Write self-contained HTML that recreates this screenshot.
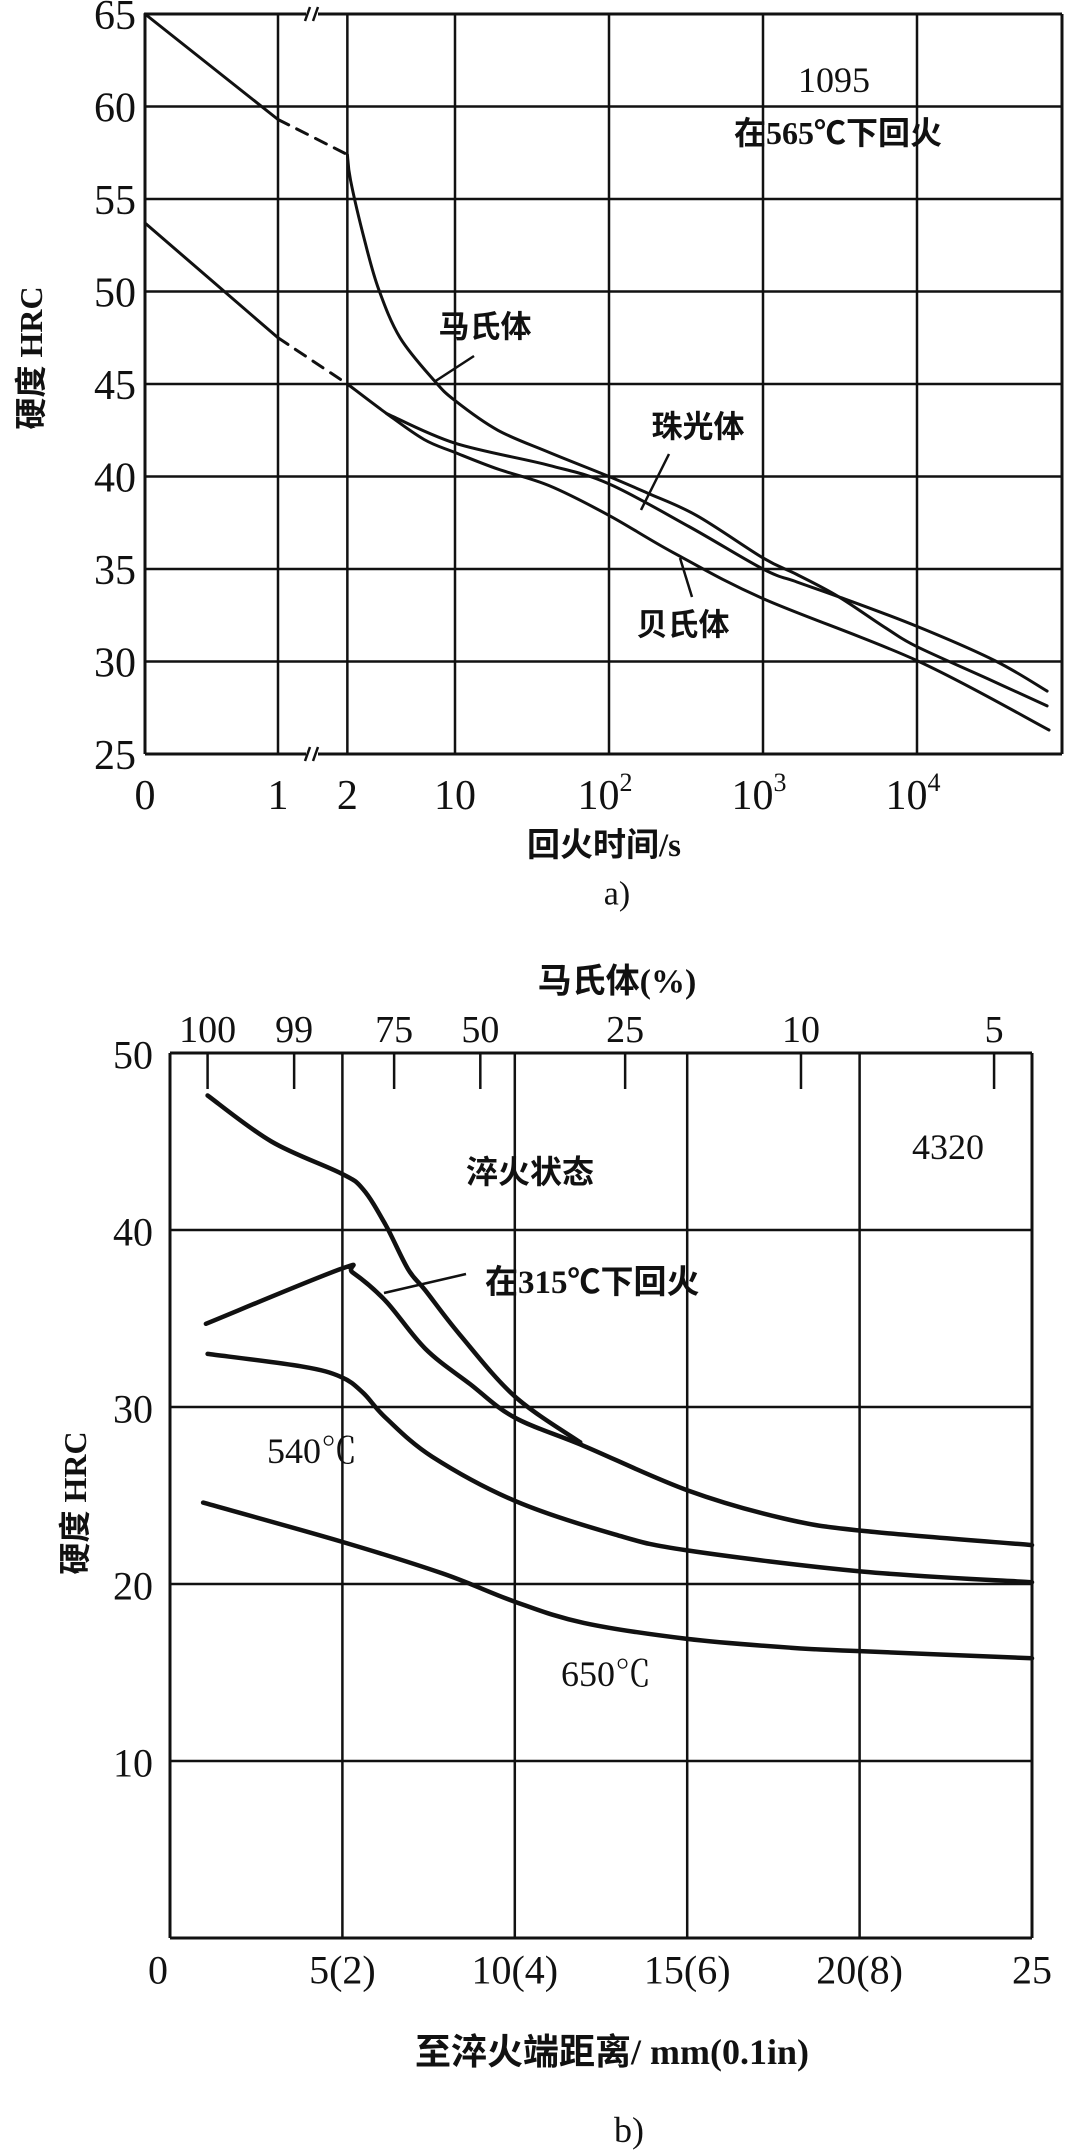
<!DOCTYPE html>
<html><head><meta charset="utf-8">
<style>
html,body{margin:0;padding:0;background:#fff;}
svg{display:block;}
text{font-family:"Liberation Serif","Noto Serif CJK SC","Noto Sans CJK SC",serif;fill:#111;}
.cj{font-family:"Liberation Serif","Noto Sans CJK SC",sans-serif;font-weight:bold;}
</style></head>
<body>
<svg id="fig" width="1080" height="2155" viewBox="0 0 1080 2155" xmlns="http://www.w3.org/2000/svg"></svg>
<script>
// ---------- Chart a data ----------
const aYTicks=[65,60,55,50,45,40,35,30,25];
const aXTickVals=[0,1,2,10,100,1000,10000];
const aXTickLabels=["0","1","2","10","10|2","10|3","10|4"];
const martSolidT=[0,1], martSolidH=[65,59.3];
const martDashT=[1,2], martDashH=[59.3,57.4];
const martT=[2,2.1,2.6,3.2,4.4,7.3,10,19,41,100,178,370,1000,1660,3100,6300,10000,30000,70000];
const martH=[57.4,56.0,52.7,50.1,47.5,45.2,44.1,42.5,41.3,40.0,39.1,37.9,35.6,34.7,33.5,31.8,30.8,29.0,27.6];
const pearlT=[3.6,10,41,100,330,1000,1660,3100,10000,32000,70000];
const pearlH=[43.4,41.8,40.6,39.6,37.3,35.0,34.3,33.5,31.9,30.05,28.4];
const bainSolidT=[0,1], bainSolidH=[53.7,47.5];
const bainDashT=[1,2], bainDashH=[47.5,45.0];
const bainT=[2,3.6,6.3,10,19,41,100,260,1000,10000,72000];
const bainH=[45.0,43.4,42.0,41.3,40.4,39.5,37.9,35.9,33.4,30.05,26.3];
// ---------- Chart b data ----------
const bYTicks=[50,40,30,20,10];
const bXTickVals=[0,5,10,15,20,25];
const bXTickLabels=["0","5(2)","10(4)","15(6)","20(8)","25"];
const bTopLabels=["100","99","75","50","25","10","5"];
const bTopD=[1.09,3.6,6.5,9.0,13.2,18.3,23.9];
const quenchD=[1.09,2.94,4.96,5.6,6.25,6.9,7.4,8.4,10.0,11.9];
const quenchH=[47.6,45.0,43.2,42.3,40.3,37.8,36.6,34.1,30.6,28.0];
const t315D=[1.04,4.96,5.3,6.25,7.4,8.7,10.0,12.0,15.0,17.8,20.1,25];
const t315H=[34.7,37.8,37.6,36.0,33.3,31.3,29.4,27.8,25.3,23.7,23.0,22.2];
const t540D=[1.09,3.8,4.96,5.6,6.25,7.6,10.0,12.9,15.0,20.1,25];
const t540H=[33.0,32.3,31.7,30.8,29.4,27.2,24.7,22.8,21.9,20.7,20.1];
const t650D=[0.96,4.96,7.9,10.0,12.0,15.0,18.0,20.1,25];
const t650H=[24.6,22.4,20.6,19.0,17.8,16.9,16.4,16.2,15.8];

const NS="http://www.w3.org/2000/svg";
const svg=document.getElementById('fig');
function mk(tag,attrs,parent){const e=document.createElementNS(NS,tag);for(const k in attrs)e.setAttribute(k,attrs[k]);(parent||svg).appendChild(e);return e;}
function xa(t){if(t<=1)return 145+t*133;const x2=455+(Math.log10(2)-1)*154;if(t<=2)return 278+(t-1)*(x2-278);return 455+(Math.log10(t)-1)*154;}
function ya(h){return 14+(65-h)*18.5;}
function xb(d){return 170+d*34.48;}
function yb(h){return 1938-h*17.7;}
function smooth(pts){let d="M"+pts[0][0].toFixed(1)+","+pts[0][1].toFixed(1);
 for(let i=0;i<pts.length-1;i++){const p0=pts[i-1]||pts[i],p1=pts[i],p2=pts[i+1],p3=pts[i+2]||p2;
 const c1=[p1[0]+(p2[0]-p0[0])/6,p1[1]+(p2[1]-p0[1])/6],c2=[p2[0]-(p3[0]-p1[0])/6,p2[1]-(p3[1]-p1[1])/6];
 d+=" C"+c1.map(v=>v.toFixed(1)).join(",")+" "+c2.map(v=>v.toFixed(1)).join(",")+" "+p2[0].toFixed(1)+","+p2[1].toFixed(1);}return d;}
function txt(s,x,y,size,anchor,cls,name){const t=mk('text',{x:x,y:y,'font-size':size,'text-anchor':anchor||'middle','dominant-baseline':'central'});if(cls)t.setAttribute('class',cls);t.textContent=s;


return t;}

// ===== Chart a =====
const ga=mk('g',{});


aYTicks.forEach(h=>{const l=mk('line',{x1:145,x2:1062,y1:ya(h),y2:ya(h),stroke:'#111','stroke-width':(h==65||h==25)?3:2.5},ga);


txt(String(h),136,ya(h)+2,42,'end',null,'a-y-tick-label');});
[145,1062].concat(aXTickVals.slice(1).map(xa)).forEach(x=>{const l=mk('line',{x1:x,x2:x,y1:ya(65),y2:ya(25),stroke:'#111','stroke-width':(x==145||x==1062)?3:2.5},ga);

});
[ya(65),ya(25)].forEach(y=>{const r=mk('rect',{x:306,y:y-4,width:12,height:8,fill:'#fff'},ga);


[305,313].forEach(x=>{const l=mk('line',{x1:x,y1:y+7,x2:x+5,y2:y-7,stroke:'#111','stroke-width':2.5},ga);

});});
aXTickVals.forEach((v,i)=>{const lab=aXTickLabels[i];const x=xa(v);
 if(lab.includes('|')){const p=lab.split('|');const t=txt('',x-4,796,42,'middle',null,'a-x-tick-label');t.textContent=p[0];const s=mk('tspan',{'font-size':26,dy:-14},t);s.textContent=p[1];}
 else txt(lab,x,796,42,'middle',null,'a-x-tick-label');});
function curve(T,H,fx,fy,w,dash,name,parent){const p=mk('path',{d:smooth(T.map((t,i)=>[fx(t),fy(H[i])])),fill:'none',stroke:'#111','stroke-width':w,'stroke-linejoin':'round','stroke-linecap':'round'},parent);
 if(dash)p.setAttribute('stroke-dasharray',dash);
 
 return p;}
curve(martSolidT,martSolidH,xa,ya,3,null,'martensite-line-initial',ga);
curve(martDashT,martDashH,xa,ya,3,'12,9','martensite-line-dashed',ga);
curve(martT,martH,xa,ya,3,null,'martensite-line',ga);
curve(pearlT,pearlH,xa,ya,3,null,'pearlite-line',ga);
curve(bainSolidT,bainSolidH,xa,ya,3,null,'bainite-line-initial',ga);
curve(bainDashT,bainDashH,xa,ya,3,'12,9','bainite-line-dashed',ga);
curve(bainT,bainH,xa,ya,3,null,'bainite-line',ga);
function leader(x1,y1,x2,y2,w,name){const l=mk('line',{x1:x1,y1:y1,x2:x2,y2:y2,stroke:'#111','stroke-width':w});

}
txt('马氏体',485,327,31,'middle','cj','martensite-label');leader(474,356,434,382,2.5,'martensite-leader');
txt('珠光体',698,427,31,'middle','cj','pearlite-label');leader(669,454,641,510,2.5,'pearlite-leader');
txt('贝氏体',683,625,31,'middle','cj','bainite-label');leader(692,597,680,558,2.5,'bainite-leader');
txt('1095',834,80,36,'middle',null,'steel-grade-1095');
txt('在565℃下回火',838,133,32,'middle','cj','tempering-note-a');
const yt=txt('硬度  HRC',31,358,32,'middle','cj','a-y-axis-title');yt.setAttribute('transform','rotate(-90 31 358)');
txt('回火时间/s',604,846,33,'middle','cj','a-x-axis-title');
txt('a)',617,894,34,'middle',null,'a-caption');

// ===== Chart b =====
const gb=mk('g',{});


[50,40,30,20,10,0].forEach(h=>{const l=mk('line',{x1:170,x2:1032,y1:yb(h),y2:yb(h),stroke:'#111','stroke-width':(h==50||h==0)?3:2.5},gb);

});
bYTicks.forEach(h=>txt(String(h),153,yb(h)+2,40,'end',null,'b-y-tick-label'));
bXTickVals.forEach((d,i)=>{const l=mk('line',{x1:xb(d),x2:xb(d),y1:yb(50),y2:yb(0),stroke:'#111','stroke-width':(d==0||d==25)?3:2.5},gb);


txt(bXTickLabels[i],xb(d)+(i==0?-12:0),1970,40,'middle',null,'b-x-tick-label');});
bTopD.forEach((d,i)=>{const l=mk('line',{x1:xb(d),x2:xb(d),y1:yb(50),y2:yb(50)+36,stroke:'#111','stroke-width':2.5},gb);


txt(bTopLabels[i],xb(d),1030,38,'middle',null,'martensite-percent-label');});
curve(quenchD,quenchH,xb,yb,4.5,null,'as-quenched-line',gb);
curve(t315D,t315H,xb,yb,4.5,null,'tempered-315-line',gb);
curve(t540D,t540H,xb,yb,4.5,null,'tempered-540-line',gb);
curve(t650D,t650H,xb,yb,4.5,null,'tempered-650-line',gb);
txt('马氏体(%)',617,982,34,'middle','cj','b-top-axis-title');
txt('4320',948,1147,36,'middle',null,'steel-grade-4320');
txt('淬火状态',530,1172,32,'middle','cj','as-quenched-label');
txt('在315℃下回火',485,1283,33,'start','cj','tempered-315-label');leader(384,1293,466,1274,2.5,'tempered-315-leader');
txt('540℃',312,1451,36,'middle',null,'tempered-540-label');
txt('650℃',606,1674,36,'middle',null,'tempered-650-label');
const yt2=txt('硬度  HRC',75,1503,32,'middle','cj','b-y-axis-title');yt2.setAttribute('transform','rotate(-90 75 1503)');
txt('至淬火端距离/ mm(0.1in)',612,2052,36,'middle','cj','b-x-axis-title');
txt('b)',629,2130,36,'middle',null,'b-caption');
</script>
</body></html>
